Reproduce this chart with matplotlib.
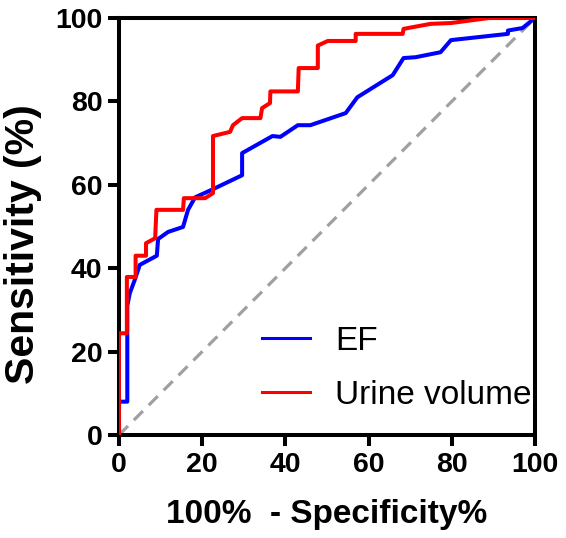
import matplotlib
matplotlib.use("Agg")
import matplotlib.pyplot as plt

# ROC curve points (x = 100% - specificity, y = sensitivity)
ef_x = [0, 0, 2, 2, 2.6, 3.9, 5, 9.1, 9.4, 11.8, 15.4, 16.6, 18.3, 22.7, 29.6, 29.6,
        36.9, 38.8, 43, 46, 54.5, 57.3, 65.8, 68.4, 71.3, 77.3, 79.8, 93.5, 93.5, 97, 100]
ef_y = [0, 8, 8, 31, 34, 37.5, 40.8, 43, 47, 48.7, 49.9, 54, 57, 59, 62.3, 67.6,
        71.7, 71.5, 74.3, 74.3, 77.2, 81, 86.3, 90.4, 90.6, 91.8, 94.7, 96.2, 97, 97.6, 100]

urine_x = [0, 0, 1.9, 1.9, 4.0, 4.0, 6.5, 6.5, 8.7, 9.0, 15.4, 15.6, 20.7, 22.6, 22.6,
           26.7, 27.4, 29.6, 34, 34.4, 36.3, 36.4, 43, 43.2, 47.8, 47.8, 50.2, 56.9,
           56.9, 68.2, 68.4, 74.9, 79.8, 88.9, 100]
urine_y = [0, 24.4, 24.4, 37.9, 37.9, 43, 43, 46, 47.2, 54, 54, 56.8, 56.8, 58, 71.7,
           72.7, 74.3, 76, 76, 78.4, 79.6, 82.4, 82.4, 88, 88, 93.4, 94.5, 94.5,
           96.2, 96.2, 97.4, 98.6, 98.8, 100, 100]

ref_x = [0, 100]
ref_y = [0, 100]

ticks = [0, 20, 40, 60, 80, 100]

plt.rcParams["font.family"] = ["Liberation Sans", "DejaVu Sans"]

fig = plt.figure(figsize=(5.66, 5.38), dpi=100)
ax = fig.add_axes([0.2102, 0.1914, 0.7350, 0.7751])

ax.plot(ref_x, ref_y, color="#a0a0a0", lw=2.3, dashes=(4, 2.6), zorder=1)
ax.plot(ef_x, ef_y, color="#0000ff", lw=2.9, label="EF", zorder=2)
ax.plot(urine_x, urine_y, color="#ff0000", lw=2.9, label="Urine volume", zorder=3)

ax.set_xlim(0, 100)
ax.set_ylim(0, 100)
ax.set_xticks(ticks)
ax.set_yticks(ticks)
ax.set_xticklabels([str(t) for t in ticks], fontweight="bold", fontsize=20.5)
ax.set_yticklabels([str(t) for t in ticks], fontweight="bold", fontsize=20.5)
ax.tick_params(width=2.9, length=8, pad=4)
for s in ax.spines.values():
    s.set_linewidth(2.9)

ax.set_xlabel("100%  - Specificity%", fontweight="bold", fontsize=24, labelpad=15)
ax.set_ylabel("Sensitivity (%)", fontweight="bold", fontsize=29.5)
ax.yaxis.set_label_coords(-0.186, 0.458)

leg = ax.legend(loc="center left", bbox_to_anchor=(0.344, 0.16), frameon=False,
                fontsize=24, handlelength=1.45, handletextpad=0.75, labelspacing=0.7,
                borderpad=0, borderaxespad=0)
for h in leg.get_lines():
    h.set_linewidth(2.2)

fig.savefig("out.png", dpi=100)
